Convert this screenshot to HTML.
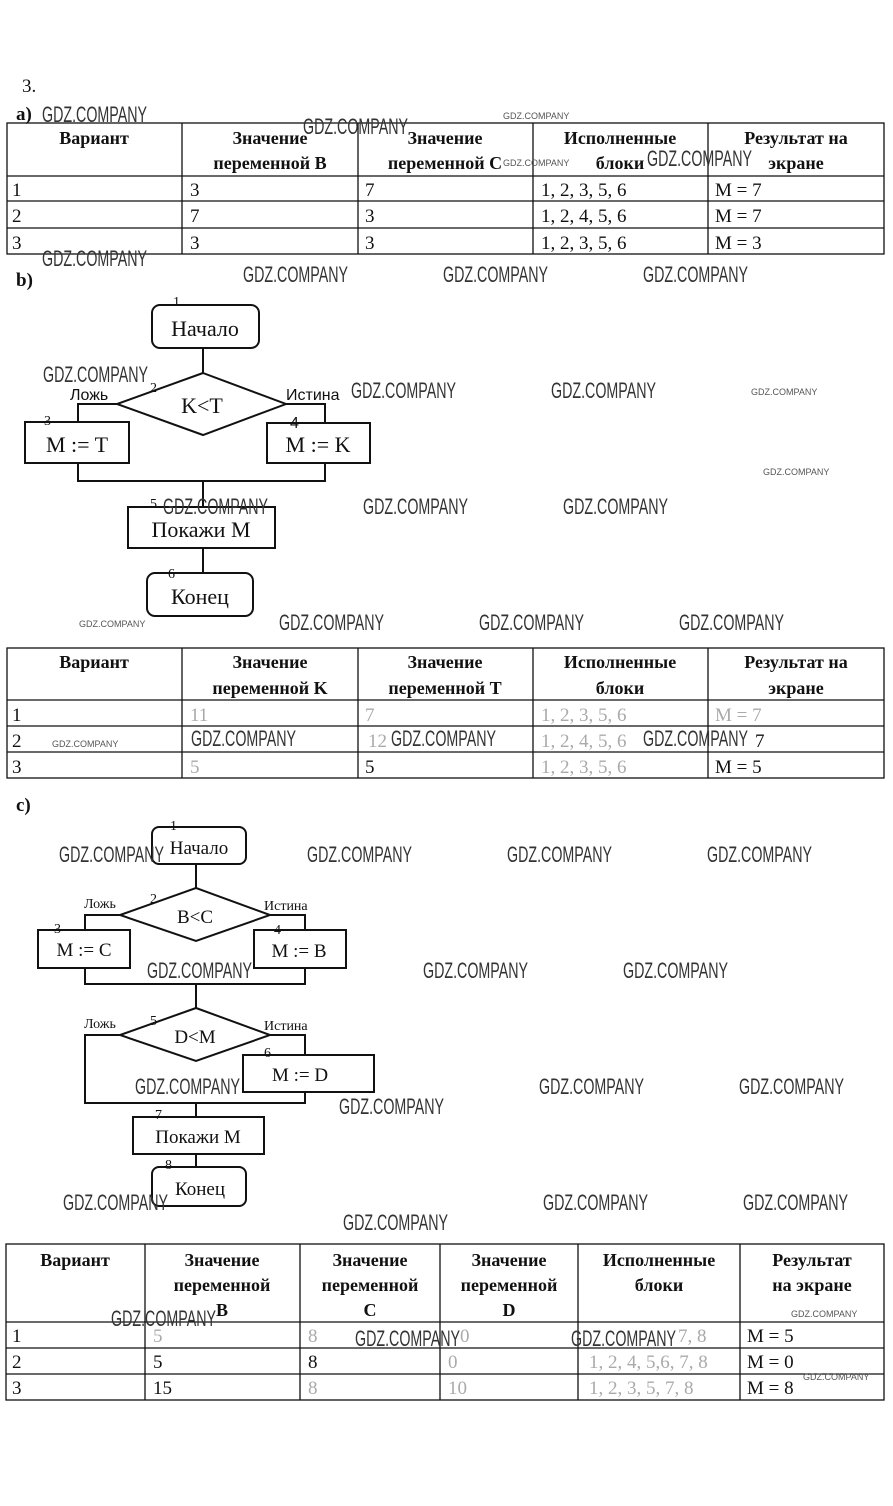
<!DOCTYPE html>
<html><head><meta charset="utf-8">
<style>
html,body{margin:0;padding:0;background:#fff;}
svg{display:block;}
text{font-family:"Liberation Serif","DejaVu Serif",serif;fill:#111;}
.h{font-weight:bold;font-size:18px;text-anchor:middle;}
.c{font-size:19px;}
.f{font-size:19px;fill:#aaa;}
.w{font-family:"Liberation Sans","DejaVu Sans",sans-serif;font-size:22px;fill:#333;}
.ws{font-family:"Liberation Sans","DejaVu Sans",sans-serif;font-size:9px;fill:#555;}
.s{font-family:"Liberation Sans","DejaVu Sans",sans-serif;font-size:16px;}
.n{font-size:14px;}
.b{font-size:22px;text-anchor:middle;}
.bs{font-size:19px;text-anchor:middle;}
line,rect,polygon,polyline{stroke:#111;fill:none;}
</style></head>
<body>
<svg width="893" height="1506" viewBox="0 0 893 1506" xmlns="http://www.w3.org/2000/svg">
<text x="22" y="92" class="c">3.</text>
<text x="16" y="120" class="c" font-weight="bold">a)</text>

<!-- Table a -->
<g stroke-width="1.3">
<rect x="7" y="123" width="877" height="131"/>
<line x1="7" y1="176" x2="884" y2="176"/>
<line x1="7" y1="201" x2="884" y2="201"/>
<line x1="7" y1="228" x2="884" y2="228"/>
<line x1="182" y1="123" x2="182" y2="254"/>
<line x1="358" y1="123" x2="358" y2="254"/>
<line x1="533" y1="123" x2="533" y2="254"/>
<line x1="708" y1="123" x2="708" y2="254"/>
</g>
<text class="h" x="94" y="144">Вариант</text>
<text class="h" x="270" y="144">Значение</text><text class="h" x="270" y="169">переменной B</text>
<text class="h" x="445" y="144">Значение</text><text class="h" x="445" y="169">переменной C</text>
<text class="h" x="620" y="144">Исполненные</text><text class="h" x="620" y="169">блоки</text>
<text class="h" x="796" y="144">Результат на</text><text class="h" x="796" y="169">экране</text>
<text class="c" x="12" y="196">1</text><text class="c" x="190" y="196">3</text><text class="c" x="365" y="196">7</text><text class="c" x="541" y="196">1, 2, 3, 5, 6</text><text class="c" x="715" y="196">M = 7</text>
<text class="c" x="12" y="222">2</text><text class="c" x="190" y="222">7</text><text class="c" x="365" y="222">3</text><text class="c" x="541" y="222">1, 2, 4, 5, 6</text><text class="c" x="715" y="222">M = 7</text>
<text class="c" x="12" y="249">3</text><text class="c" x="190" y="249">3</text><text class="c" x="365" y="249">3</text><text class="c" x="541" y="249">1, 2, 3, 5, 6</text><text class="c" x="715" y="249">M = 3</text>

<text x="16" y="286" class="c" font-weight="bold">b)</text>

<!-- Flowchart b -->
<g stroke-width="2">
<rect x="152" y="305" width="107" height="43" rx="8"/>
<line x1="203" y1="348" x2="203" y2="373"/>
<polygon points="203,373 286,404 203,435 117,404"/>
<polyline points="117,404 78,404 78,422"/>
<polyline points="286,404 325,404 325,423"/>
<rect x="25" y="422" width="104" height="41"/>
<rect x="267" y="423" width="103" height="40"/>
<polyline points="78,463 78,481 325,481 325,463"/>
<line x1="203" y1="481" x2="203" y2="507"/>
<rect x="128" y="507" width="147" height="41"/>
<line x1="203" y1="548" x2="203" y2="573"/>
<rect x="147" y="573" width="106" height="43" rx="8"/>
</g>
<text class="b" x="205" y="336">Начало</text>
<text class="n" x="173" y="306">1</text>
<text class="b" x="202" y="413">K&lt;T</text>
<text class="n" x="150" y="392">2</text>
<text class="s" x="70" y="400">Ложь</text>
<text class="s" x="286" y="400">Истина</text>
<text class="n" x="44" y="425">3</text>
<text class="b" x="77" y="452">M := T</text>
<text class="s" x="290" y="428">4</text>
<text class="b" x="318" y="452">M := K</text>
<text class="n" x="150" y="508">5</text>
<text class="b" x="201" y="537">Покажи M</text>
<text class="n" x="168" y="578">6</text>
<text class="b" x="200" y="604">Конец</text>

<!-- Table b -->
<g stroke-width="1.3">
<rect x="7" y="648" width="877" height="130"/>
<line x1="7" y1="700" x2="884" y2="700"/>
<line x1="7" y1="726" x2="884" y2="726"/>
<line x1="7" y1="752" x2="884" y2="752"/>
<line x1="182" y1="648" x2="182" y2="778"/>
<line x1="358" y1="648" x2="358" y2="778"/>
<line x1="533" y1="648" x2="533" y2="778"/>
<line x1="708" y1="648" x2="708" y2="778"/>
</g>
<text class="h" x="94" y="668">Вариант</text>
<text class="h" x="270" y="668">Значение</text><text class="h" x="270" y="694">переменной K</text>
<text class="h" x="445" y="668">Значение</text><text class="h" x="445" y="694">переменной T</text>
<text class="h" x="620" y="668">Исполненные</text><text class="h" x="620" y="694">блоки</text>
<text class="h" x="796" y="668">Результат на</text><text class="h" x="796" y="694">экране</text>
<text class="c" x="12" y="721">1</text><text class="f" x="190" y="721">11</text><text class="f" x="365" y="721">7</text><text class="f" x="541" y="721">1, 2, 3, 5, 6</text><text class="f" x="715" y="721">M = 7</text>
<text class="c" x="12" y="747">2</text><text class="f" x="368" y="747">12</text><text class="f" x="541" y="747">1, 2, 4, 5, 6</text><text class="c" x="755" y="747">7</text>
<text class="c" x="12" y="773">3</text><text class="f" x="190" y="773">5</text><text class="c" x="365" y="773">5</text><text class="f" x="541" y="773">1, 2, 3, 5, 6</text><text class="c" x="715" y="773">M = 5</text>

<text x="16" y="811" class="c" font-weight="bold">c)</text>

<!-- Flowchart c -->
<g stroke-width="2">
<rect x="152" y="827" width="94" height="37" rx="7"/>
<line x1="196" y1="864" x2="196" y2="888"/>
<polygon points="196,888 270,915 196,941 120,915"/>
<polyline points="120,915 85,915 85,930"/>
<polyline points="270,915 305,915 305,930"/>
<rect x="38" y="930" width="92" height="38"/>
<rect x="254" y="930" width="92" height="38"/>
<polyline points="85,968 85,984 305,984 305,968"/>
<line x1="196" y1="984" x2="196" y2="1008"/>
<polygon points="196,1008 270,1035 196,1061 120,1035"/>
<polyline points="120,1035 85,1035 85,1103 305,1103 305,1092"/>
<polyline points="270,1035 305,1035 305,1055"/>
<rect x="243" y="1055" width="131" height="37"/>
<line x1="196" y1="1103" x2="196" y2="1117"/>
<rect x="133" y="1117" width="131" height="37"/>
<line x1="196" y1="1154" x2="196" y2="1167"/>
<rect x="152" y="1167" width="94" height="39" rx="7"/>
</g>
<text class="bs" x="199" y="854">Начало</text>
<text class="n" x="170" y="830">1</text>
<text class="bs" x="195" y="923">B&lt;C</text>
<text class="n" x="150" y="903">2</text>
<text class="n" x="84" y="908">Ложь</text>
<text class="n" x="264" y="910">Истина</text>
<text class="n" x="54" y="933">3</text>
<text class="bs" x="84" y="956">M := C</text>
<text class="n" x="274" y="934">4</text>
<text class="bs" x="299" y="957">M := B</text>
<text class="n" x="150" y="1025">5</text>
<text class="n" x="84" y="1028">Ложь</text>
<text class="n" x="264" y="1030">Истина</text>
<text class="bs" x="195" y="1043">D&lt;M</text>
<text class="n" x="264" y="1057">6</text>
<text class="bs" x="300" y="1081">M := D</text>
<text class="n" x="155" y="1119">7</text>
<text class="bs" x="198" y="1143">Покажи M</text>
<text class="n" x="165" y="1169">8</text>
<text class="bs" x="200" y="1195">Конец</text>

<!-- Table c -->
<g stroke-width="1.3">
<rect x="6" y="1244" width="878" height="156"/>
<line x1="6" y1="1322" x2="884" y2="1322"/>
<line x1="6" y1="1348" x2="884" y2="1348"/>
<line x1="6" y1="1374" x2="884" y2="1374"/>
<line x1="145" y1="1244" x2="145" y2="1400"/>
<line x1="300" y1="1244" x2="300" y2="1400"/>
<line x1="440" y1="1244" x2="440" y2="1400"/>
<line x1="578" y1="1244" x2="578" y2="1400"/>
<line x1="740" y1="1244" x2="740" y2="1400"/>
</g>
<text class="h" x="75" y="1266">Вариант</text>
<text class="h" x="222" y="1266">Значение</text><text class="h" x="222" y="1291">переменной</text><text class="h" x="222" y="1316">B</text>
<text class="h" x="370" y="1266">Значение</text><text class="h" x="370" y="1291">переменной</text><text class="h" x="370" y="1316">C</text>
<text class="h" x="509" y="1266">Значение</text><text class="h" x="509" y="1291">переменной</text><text class="h" x="509" y="1316">D</text>
<text class="h" x="659" y="1266">Исполненные</text><text class="h" x="659" y="1291">блоки</text>
<text class="h" x="812" y="1266">Результат</text><text class="h" x="812" y="1291">на экране</text>
<text class="c" x="12" y="1342">1</text><text class="f" x="153" y="1342">5</text><text class="f" x="308" y="1342">8</text><text class="f" x="460" y="1342">0</text><text class="f" x="678" y="1342">7, 8</text><text class="c" x="747" y="1342">M = 5</text>
<text class="c" x="12" y="1368">2</text><text class="c" x="153" y="1368">5</text><text class="c" x="308" y="1368">8</text><text class="f" x="448" y="1368">0</text><text class="f" x="589" y="1368">1, 2, 4, 5,6, 7, 8</text><text class="c" x="747" y="1368">M = 0</text>
<text class="c" x="12" y="1394">3</text><text class="c" x="153" y="1394">15</text><text class="f" x="308" y="1394">8</text><text class="f" x="448" y="1394">10</text><text class="f" x="589" y="1394">1, 2, 3, 5, 7, 8</text><text class="c" x="747" y="1394">M = 8</text>

<!-- watermarks -->
<g>
<text class="w" x="42" y="122" textLength="105" lengthAdjust="spacingAndGlyphs">GDZ.COMPANY</text>
<text class="w" x="303" y="134" textLength="105" lengthAdjust="spacingAndGlyphs">GDZ.COMPANY</text>
<text class="w" x="647" y="166" textLength="105" lengthAdjust="spacingAndGlyphs">GDZ.COMPANY</text>
<text class="w" x="42" y="266" textLength="105" lengthAdjust="spacingAndGlyphs">GDZ.COMPANY</text>
<text class="w" x="243" y="282" textLength="105" lengthAdjust="spacingAndGlyphs">GDZ.COMPANY</text>
<text class="w" x="443" y="282" textLength="105" lengthAdjust="spacingAndGlyphs">GDZ.COMPANY</text>
<text class="w" x="643" y="282" textLength="105" lengthAdjust="spacingAndGlyphs">GDZ.COMPANY</text>
<text class="w" x="43" y="382" textLength="105" lengthAdjust="spacingAndGlyphs">GDZ.COMPANY</text>
<text class="w" x="351" y="398" textLength="105" lengthAdjust="spacingAndGlyphs">GDZ.COMPANY</text>
<text class="w" x="551" y="398" textLength="105" lengthAdjust="spacingAndGlyphs">GDZ.COMPANY</text>
<text class="w" x="163" y="514" textLength="105" lengthAdjust="spacingAndGlyphs">GDZ.COMPANY</text>
<text class="w" x="363" y="514" textLength="105" lengthAdjust="spacingAndGlyphs">GDZ.COMPANY</text>
<text class="w" x="563" y="514" textLength="105" lengthAdjust="spacingAndGlyphs">GDZ.COMPANY</text>
<text class="w" x="279" y="630" textLength="105" lengthAdjust="spacingAndGlyphs">GDZ.COMPANY</text>
<text class="w" x="479" y="630" textLength="105" lengthAdjust="spacingAndGlyphs">GDZ.COMPANY</text>
<text class="w" x="679" y="630" textLength="105" lengthAdjust="spacingAndGlyphs">GDZ.COMPANY</text>
<text class="w" x="191" y="746" textLength="105" lengthAdjust="spacingAndGlyphs">GDZ.COMPANY</text>
<text class="w" x="391" y="746" textLength="105" lengthAdjust="spacingAndGlyphs">GDZ.COMPANY</text>
<text class="w" x="643" y="746" textLength="105" lengthAdjust="spacingAndGlyphs">GDZ.COMPANY</text>
<text class="w" x="59" y="862" textLength="105" lengthAdjust="spacingAndGlyphs">GDZ.COMPANY</text>
<text class="w" x="307" y="862" textLength="105" lengthAdjust="spacingAndGlyphs">GDZ.COMPANY</text>
<text class="w" x="507" y="862" textLength="105" lengthAdjust="spacingAndGlyphs">GDZ.COMPANY</text>
<text class="w" x="707" y="862" textLength="105" lengthAdjust="spacingAndGlyphs">GDZ.COMPANY</text>
<text class="w" x="147" y="978" textLength="105" lengthAdjust="spacingAndGlyphs">GDZ.COMPANY</text>
<text class="w" x="423" y="978" textLength="105" lengthAdjust="spacingAndGlyphs">GDZ.COMPANY</text>
<text class="w" x="623" y="978" textLength="105" lengthAdjust="spacingAndGlyphs">GDZ.COMPANY</text>
<text class="w" x="135" y="1094" textLength="105" lengthAdjust="spacingAndGlyphs">GDZ.COMPANY</text>
<text class="w" x="539" y="1094" textLength="105" lengthAdjust="spacingAndGlyphs">GDZ.COMPANY</text>
<text class="w" x="739" y="1094" textLength="105" lengthAdjust="spacingAndGlyphs">GDZ.COMPANY</text>
<text class="w" x="339" y="1114" textLength="105" lengthAdjust="spacingAndGlyphs">GDZ.COMPANY</text>
<text class="w" x="63" y="1210" textLength="105" lengthAdjust="spacingAndGlyphs">GDZ.COMPANY</text>
<text class="w" x="543" y="1210" textLength="105" lengthAdjust="spacingAndGlyphs">GDZ.COMPANY</text>
<text class="w" x="743" y="1210" textLength="105" lengthAdjust="spacingAndGlyphs">GDZ.COMPANY</text>
<text class="w" x="343" y="1230" textLength="105" lengthAdjust="spacingAndGlyphs">GDZ.COMPANY</text>
<text class="w" x="111" y="1326" textLength="105" lengthAdjust="spacingAndGlyphs">GDZ.COMPANY</text>
<text class="w" x="355" y="1346" textLength="105" lengthAdjust="spacingAndGlyphs">GDZ.COMPANY</text>
<text class="w" x="571" y="1346" textLength="105" lengthAdjust="spacingAndGlyphs">GDZ.COMPANY</text>
<text class="ws" x="503" y="119">GDZ.COMPANY</text>
<text class="ws" x="503" y="166">GDZ.COMPANY</text>
<text class="ws" x="751" y="395">GDZ.COMPANY</text>
<text class="ws" x="763" y="475">GDZ.COMPANY</text>
<text class="ws" x="79" y="627">GDZ.COMPANY</text>
<text class="ws" x="52" y="747">GDZ.COMPANY</text>
<text class="ws" x="791" y="1317">GDZ.COMPANY</text>
<text class="ws" x="803" y="1380">GDZ.COMPANY</text>
</g>
</svg>
</body></html>
